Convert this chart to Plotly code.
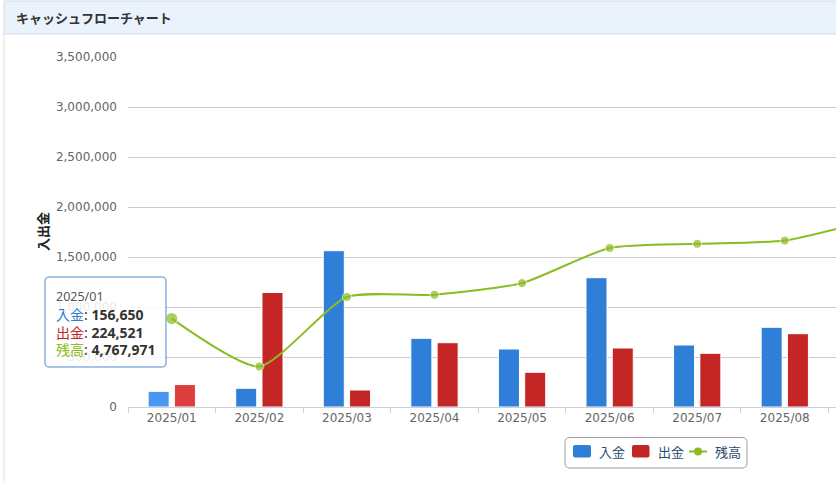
import plotly.graph_objects as go

# ---- data ----
months = ["2025/01", "2025/02", "2025/03", "2025/04", "2025/05",
          "2025/06", "2025/07", "2025/08", "2025/09"]
income = [156650, 187000, 1563000, 687000, 580000, 1293000, 620000, 797000, None]
expense = [224521, 1145000, 170000, 643000, 347000, 590000, 537000, 733000, None]
balance = [4767971, 3809971, 5200971, 5244971, 5477971, 6180971, 6263971, 6327971, 6750000]
y_ticks = [0, 500000, 1000000, 1500000, 2000000, 2500000, 3000000, 3500000]

BLUE, RED, GREEN = "#2f7ed8", "#c42525", "#8bbc21"
BLUE_H, RED_H = "#4897f1", "#dd3e3e"
FONT = "DejaVu Sans, Noto Sans CJK JP"
CJK = "Noto Sans CJK JP, DejaVu Sans"
TIP = "Noto Sans, Noto Sans CJK JP"

W, H = 836, 481
L, R, T, B = 128, 0, 57, 74
PW, PH = W - L - R, H - T - B


def px(x):
    return (x - L) / PW


def py(y):
    return (H - B - y) / PH


def rrect(x0, y0, x1, y1, r):
    pts = [("M", x0 + r, y0), ("L", x1 - r, y0), ("Q", x1, y0, x1, y0 + r),
           ("L", x1, y1 - r), ("Q", x1, y1, x1 - r, y1), ("L", x0 + r, y1),
           ("Q", x0, y1, x0, y1 - r), ("L", x0, y0 + r), ("Q", x0, y0, x0 + r, y0)]
    out = []
    for p in pts:
        cmd, coords = p[0], p[1:]
        cs = []
        for i in range(0, len(coords), 2):
            cs.append(f"{px(coords[i]):.5f},{py(coords[i+1]):.5f}")
        out.append(cmd + " ".join(cs))
    return " ".join(out) + " Z"


inc_colors = [BLUE_H] + [BLUE] * (len(months) - 1)
exp_colors = [RED_H] + [RED] * (len(months) - 1)
msizes = [12] + [9] * (len(months) - 1)

fig = go.Figure()
fig.add_trace(go.Bar(x=months, y=income, name="入金",
                     marker=dict(color=inc_colors, line=dict(color="white", width=1)),
                     showlegend=False))
fig.add_trace(go.Bar(x=months, y=expense, name="出金",
                     marker=dict(color=exp_colors, line=dict(color="white", width=1)),
                     showlegend=False))
fig.add_trace(go.Scatter(x=months, y=balance, name="残高", yaxis="y2", mode="lines+markers",
                         line=dict(color=GREEN, width=2, shape="spline", smoothing=0.6),
                         marker=dict(color=GREEN, size=msizes), showlegend=False))

shapes = []
# panel header
shapes.append(dict(type="rect", xref="paper", yref="paper", x0=px(4), x1=px(845),
                   y0=py(1), y1=py(34), fillcolor="#eaf2fc",
                   line=dict(color="#d3dde8", width=1), layer="below"))
shapes.append(dict(type="line", xref="paper", yref="paper", x0=px(4), x1=px(4),
                   y0=py(34), y1=py(490), line=dict(color="#dddddd", width=1), layer="below"))
# custom legend
shapes.append(dict(type="path", xref="paper", yref="paper", path=rrect(565, 437.5, 747, 468, 5),
                   fillcolor="white", line=dict(color="#a0a0a0", width=1), layer="above"))
shapes.append(dict(type="path", xref="paper", yref="paper", path=rrect(573, 445, 591, 457.5, 2),
                   fillcolor=BLUE, line=dict(width=0), layer="above"))
shapes.append(dict(type="path", xref="paper", yref="paper", path=rrect(632, 445, 649.5, 457.5, 2),
                   fillcolor=RED, line=dict(width=0), layer="above"))
shapes.append(dict(type="line", xref="paper", yref="paper", x0=px(689), x1=px(707),
                   y0=py(451.5), y1=py(451.5), line=dict(color=GREEN, width=2), layer="above"))
shapes.append(dict(type="circle", xref="paper", yref="paper", x0=px(694), x1=px(702),
                   y0=py(455.5), y1=py(447.5), fillcolor=GREEN, line=dict(width=0), layer="above"))
# tooltip box
shapes.append(dict(type="path", xref="paper", yref="paper", path=rrect(45, 277, 166, 367, 4),
                   fillcolor="rgba(255,255,255,0.85)", line=dict(color="#4a8bd0", width=1),
                   layer="above"))

ann = []
ann.append(dict(text="<b>キャッシュフローチャート</b>", xref="paper", yref="paper",
                x=px(14), y=py(17.5), xanchor="left", yanchor="middle", showarrow=False,
                font=dict(family=CJK, size=13, color="#333333")))
ann.append(dict(text="<b>入出金</b>", xref="paper", yref="paper", x=px(42), y=py(232),
                xanchor="center", yanchor="middle", textangle=-90, showarrow=False,
                font=dict(family=CJK, size=13, color="#222222")))
for label, lx in [("入金", 597), ("出金", 655.5), ("残高", 713)]:
    ann.append(dict(text=label, xref="paper", yref="paper", x=px(lx), y=py(451.5),
                    xanchor="left", yanchor="middle", showarrow=False,
                    font=dict(family=CJK, size=13, color="#274b6d")))
# tooltip texts
ann.append(dict(text=months[0], xref="paper", yref="paper", x=px(54), y=py(296),
                xanchor="left", yanchor="middle", showarrow=False,
                font=dict(family=TIP, size=12.5, color="#555555")))
rows = [("入金", BLUE, income[0], 314), ("出金", RED, expense[0], 331.5),
        ("残高", GREEN, balance[0], 349)]
for label, col, val, yy in rows:
    txt = (f"<span style='color:{col};font-family:Noto Sans CJK JP'>{label}</span>"
           f"<span style='color:#333333'>: <b>{val:,}</b></span>")
    ann.append(dict(text=txt, xref="paper", yref="paper", x=px(54), y=py(yy),
                    xanchor="left", yanchor="middle", showarrow=False,
                    font=dict(family=TIP, size=14, color="#333333")))

fig.update_layout(
    width=W, height=H, margin=dict(l=L, r=R, t=T, b=B, pad=0),
    paper_bgcolor="white", plot_bgcolor="white",
    font=dict(family=FONT, size=12, color="#666666"),
    barmode="group", bargap=0.4, bargroupgap=0.2,
    xaxis=dict(type="category", categoryorder="array", categoryarray=months,
               range=[-0.5, -0.5 + PW / 87.57], showgrid=False,
               showline=True, linecolor="#c8d0dc", linewidth=1,
               ticks="outside", tickson="boundaries", ticklen=5, tickcolor="#c8d0dc",
               tickfont=dict(family=FONT, size=12, color="#666666"), fixedrange=True),
    yaxis=dict(range=[0, 3500000], tickvals=y_ticks, tickformat=",", showgrid=True,
               gridcolor="#cccccc", gridwidth=1, zeroline=False, showline=False,
               ticks="", ticklabelstandoff=10,
               tickfont=dict(family=FONT, size=12, color="#666666")),
    yaxis2=dict(range=[3000000, 10000000], overlaying="y", side="right", visible=False),
    shapes=shapes, annotations=ann, showlegend=False,
)

fig.write_html("out.html")
